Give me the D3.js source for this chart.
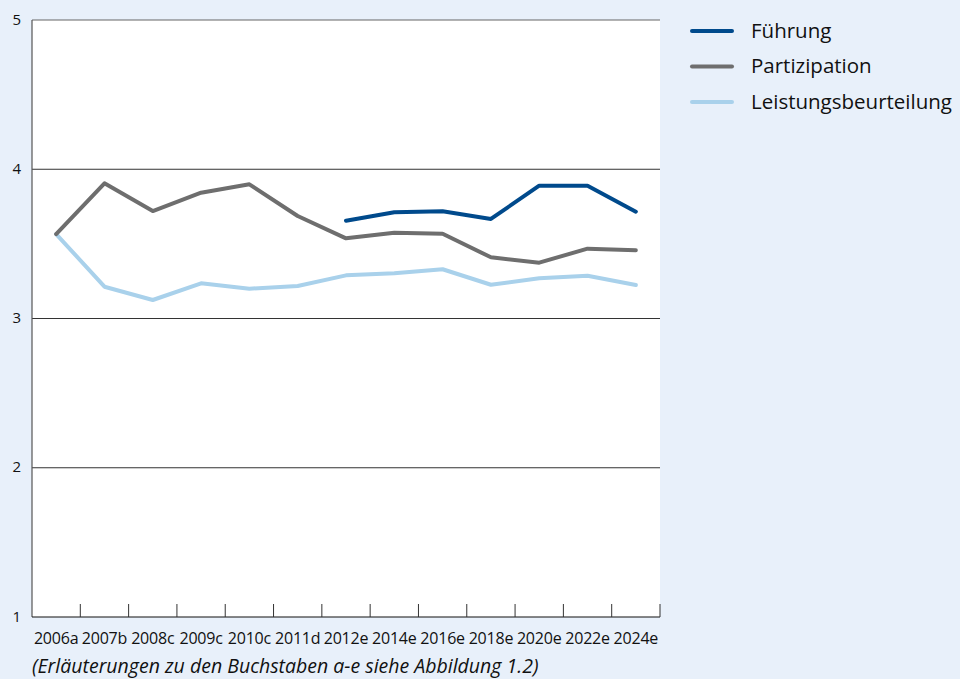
<!DOCTYPE html>
<html><head><meta charset="utf-8">
<script src="https://cdn.jsdelivr.net/npm/d3@7"></script>
<style>
body{margin:0;background:#e8f0fa;}
svg{display:block;font-family:"Open Sans","Noto Sans",sans-serif;}
</style></head>
<body>
<svg id="c" width="960" height="679"></svg>
<script>
const categories = ["2006a","2007b","2008c","2009c","2010c","2011d","2012e","2014e","2016e","2018e","2020e","2022e","2024e"];
const fuehrung = [null,null,null,null,null,null,3.655,3.712,3.718,3.667,3.890,3.890,3.716];
const partizipation = [3.566,3.906,3.720,3.843,3.899,3.687,3.537,3.575,3.568,3.410,3.374,3.468,3.457];
const leistung = [3.566,3.213,3.124,3.236,3.200,3.218,3.289,3.303,3.330,3.226,3.269,3.287,3.224];
const seriesNames = ["Führung","Partizipation","Leistungsbeurteilung"];
const seriesColors = ["#004a8c","#6e6e6e","#a9d1eb"];
const yTicks = [1,2,3,4,5];
const note = "(Erläuterungen zu den Buchstaben a-e siehe Abbildung 1.2)";

const series = [fuehrung, partizipation, leistung];
const svg = d3.select("#c");
const L=32, R=660, T=20, B=617;

svg.append("rect").attr("x",L).attr("y",T).attr("width",R-L).attr("height",B-T).attr("fill","#fff");

const x = d3.scaleBand().domain(categories).range([L,R]).padding(0);
const y = d3.scaleLinear().domain([1,5]).range([B,T]);

// gridlines
svg.append("g").selectAll("line").data(yTicks.filter(d=>d>1)).join("line")
  .attr("x1",L).attr("x2",R).attr("y1",d=>y(d)).attr("y2",d=>y(d))
  .attr("stroke",d=>d===5?"#666":"#333").attr("stroke-width",1);

// y axis
svg.append("line").attr("x1",L).attr("x2",L).attr("y1",T).attr("y2",B).attr("stroke","#555").attr("stroke-width",1.2);
svg.append("g").selectAll("text").data(yTicks).join("text")
  .attr("x",21).attr("y",d=>y(d)).attr("dy","0.3em").attr("text-anchor","end")
  .attr("font-size",15).attr("fill","#111").text(d=>d);

// x axis
svg.append("line").attr("x1",L).attr("x2",R).attr("y1",B).attr("y2",B).attr("stroke","#111").attr("stroke-width",1.2);
const tickPos = categories.map(c=>x(c)+x.bandwidth());
svg.append("g").selectAll("line").data(tickPos).join("line")
  .attr("x1",d=>d).attr("x2",d=>d).attr("y1",B-13).attr("y2",B)
  .attr("stroke","#333").attr("stroke-width",1);
svg.append("g").selectAll("text").data(categories).join("text")
  .attr("x",d=>x(d)+x.bandwidth()/2).attr("y",644).attr("text-anchor","middle")
  .attr("font-size",16).attr("letter-spacing","-0.2").attr("fill","#111").text(d=>d);

// lines
const line = d3.line().defined(d=>d.v!=null).x(d=>x(d.c)+x.bandwidth()/2).y(d=>y(d.v));
[2,1,0].forEach(i=>{
  svg.append("path").datum(categories.map((c,j)=>({c,v:series[i][j]})))
    .attr("d",line).attr("fill","none").attr("stroke",seriesColors[i])
    .attr("stroke-width",4).attr("stroke-linejoin","round").attr("stroke-linecap","round");
});

// legend
const lg = svg.append("g");
seriesNames.forEach((n,i)=>{
  const yy = 31 + i*35.5;
  lg.append("line").attr("x1",692).attr("x2",732).attr("y1",yy).attr("y2",yy)
    .attr("stroke",seriesColors[i]).attr("stroke-width",4).attr("stroke-linecap","round");
  lg.append("text").attr("x",751).attr("y",yy).attr("dy","0.33em")
    .attr("font-size",20.5).attr("fill","#111").text(n);
});

svg.append("text").attr("x",32).attr("y",673).attr("font-size",19.5).attr("font-style","italic")
  .attr("fill","#111").text(note);
</script>
</body></html>
